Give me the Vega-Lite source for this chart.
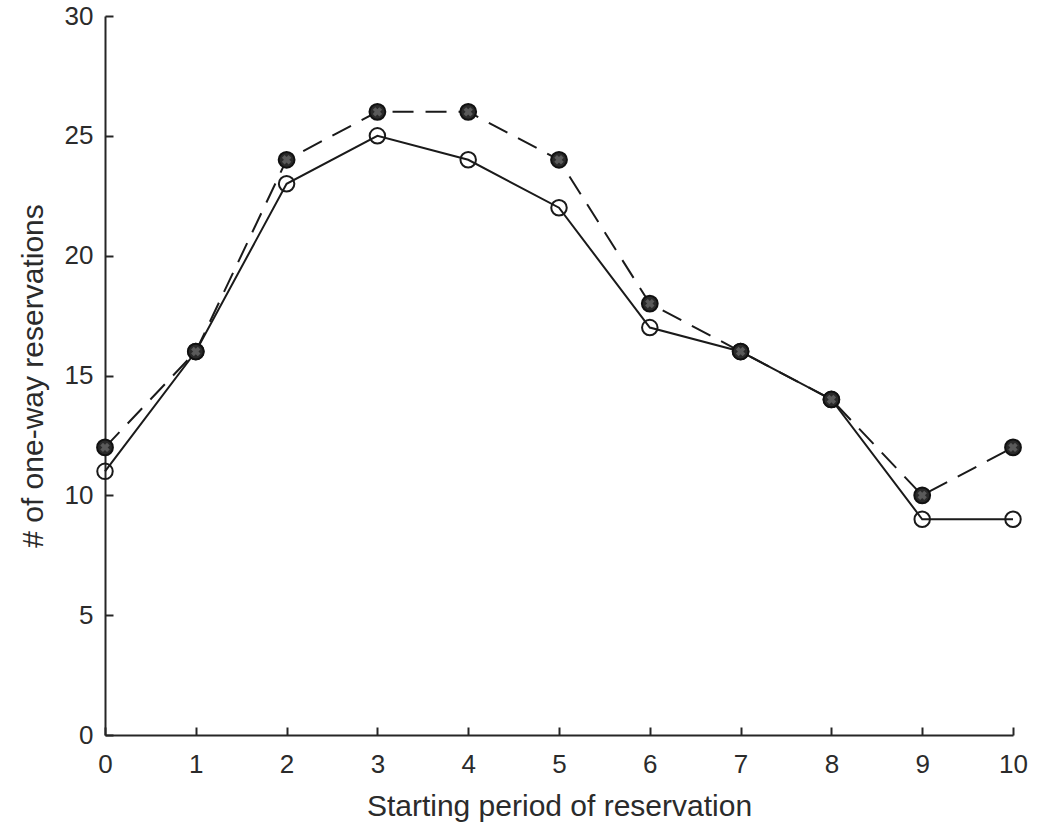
{
  "$schema": "https://vega.github.io/schema/vega-lite/v6.json",
  "autosize": "none",
  "width": 908,
  "height": 719,
  "padding": {"left": 105, "top": 16, "right": 43, "bottom": 90},
  "background": "white",
  "config": {
    "font": "Liberation Sans",
    "view": {"stroke": null},
    "axis": {
      "grid": false,
      "domainColor": "#262626",
      "domainWidth": 2,
      "tickColor": "#262626",
      "tickWidth": 2,
      "tickSize": -8,
      "labelColor": "#2b2b2b",
      "labelFontSize": 26,
      "titleColor": "#2b2b2b",
      "titleFontSize": 30,
      "titleFontWeight": "normal"
    }
  },
  "data": {
    "values": [
      {"period": 0, "count": 11, "series": "A"},
      {"period": 1, "count": 16, "series": "A"},
      {"period": 2, "count": 23, "series": "A"},
      {"period": 3, "count": 25, "series": "A"},
      {"period": 4, "count": 24, "series": "A"},
      {"period": 5, "count": 22, "series": "A"},
      {"period": 6, "count": 17, "series": "A"},
      {"period": 7, "count": 16, "series": "A"},
      {"period": 8, "count": 14, "series": "A"},
      {"period": 9, "count": 9, "series": "A"},
      {"period": 10, "count": 9, "series": "A"},
      {"period": 0, "count": 12, "series": "B"},
      {"period": 1, "count": 16, "series": "B"},
      {"period": 2, "count": 24, "series": "B"},
      {"period": 3, "count": 26, "series": "B"},
      {"period": 4, "count": 26, "series": "B"},
      {"period": 5, "count": 24, "series": "B"},
      {"period": 6, "count": 18, "series": "B"},
      {"period": 7, "count": 16, "series": "B"},
      {"period": 8, "count": 14, "series": "B"},
      {"period": 9, "count": 10, "series": "B"},
      {"period": 10, "count": 12, "series": "B"}
    ]
  },
  "encoding": {
    "x": {
      "field": "period", "type": "quantitative",
      "scale": {"domain": [0, 10], "nice": false, "zero": false},
      "axis": {"values": [0,1,2,3,4,5,6,7,8,9,10], "title": "Starting period of reservation", "labelPadding": 24, "titlePadding": 14, "labelFlush": false}
    },
    "y": {
      "field": "count", "type": "quantitative",
      "scale": {"domain": [0, 30], "nice": false},
      "axis": {"values": [0,5,10,15,20,25,30], "title": "# of one-way reservations", "labelPadding": 20, "titlePadding": 16, "labelFlush": false}
    }
  },
  "layer": [
    {
      "transform": [{"filter": "datum.series === 'A'"}],
      "mark": {"type": "line", "color": "#1a1a1a", "strokeWidth": 2}
    },
    {
      "transform": [{"filter": "datum.series === 'B'"}],
      "mark": {"type": "line", "color": "#1a1a1a", "strokeWidth": 2, "strokeDash": [21, 12]}
    },
    {
      "transform": [{"filter": "datum.series === 'A'"}],
      "mark": {"type": "point", "shape": "circle", "size": 240, "filled": false, "stroke": "#1a1a1a", "strokeWidth": 2, "fill": "white", "fillOpacity": 0, "opacity": 1}
    },
    {
      "transform": [{"filter": "datum.series === 'B'"}],
      "mark": {"type": "point", "shape": "circle", "size": 250, "filled": true, "fill": "#2a2a2a", "stroke": "#111111", "strokeWidth": 2, "opacity": 1}
    },
    {
      "transform": [{"filter": "datum.series === 'B'"}],
      "mark": {"type": "point", "shape": "cross", "size": 90, "filled": true, "fill": "#5a5a5a", "opacity": 1, "angle": 45}
    }
  ]
}
